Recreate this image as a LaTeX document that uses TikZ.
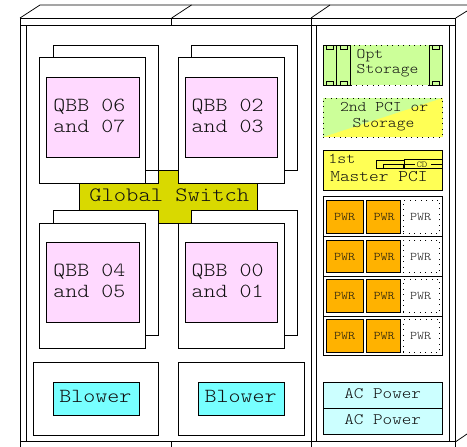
\documentclass[tikz,border=0pt]{standalone}
\usepackage{fontspec}
\setmonofont[FakeStretch=1.143]{Latin Modern Mono Light}
\definecolor{qbbpink}{HTML}{FFD9FF}
\definecolor{switchc}{HTML}{D9D900}
\definecolor{blowerc}{HTML}{77FFFF}
\definecolor{acc}{HTML}{CCFFFF}
\definecolor{optc}{HTML}{CCFF99}
\definecolor{pcic}{HTML}{FFFF55}
\definecolor{pwrc}{HTML}{FFB200}
\definecolor{txt}{HTML}{111111}
\tikzset{
  box/.style={draw=black,line width=0.75pt,inner sep=0pt,outer sep=0pt,anchor=north west},
  dotbox/.style={box,line width=0.9pt,dash pattern=on 1pt off 4.5pt},
  lbl/.style={anchor=base west,inner sep=0pt,outer sep=0pt,text=txt,font=\ttfamily\fontsize{#1}{#1}\selectfont},
  frame/.style={draw=black,line width=0.75pt}
}
% name, x1, y1, x2, y2, style
\newcommand{\bx}[6]{%
  \pgfmathsetmacro{\bw}{#4-#2}\pgfmathsetmacro{\bh}{#5-#3}%
  \node[#6,minimum width=\bw pt,minimum height=\bh pt] (#1) at (#2,#3) {};}
\begin{document}
\begin{tikzpicture}[x=1pt,y=-1pt]
\useasboundingbox (0,0) rectangle (467,447);
\fill[white] (0,0) rectangle (467,447);
\clip (0,0) rectangle (467,447);
% cabinet
\draw[frame] (20,18) -- (40,5) -- (467,5);
\draw[frame] (171.7,18) -- (191.5,5);
\draw[frame] (311,18) -- (330,5);
\draw[frame] (455.7,18) -- (467,11);
\draw[frame] (455.7,441.7) -- (467,434);
\draw[frame] (20,18) rectangle (455.7,25);
\draw[frame] (171.7,18) -- (171.7,25);
\draw[frame] (311,18) -- (311,25);
\draw[frame] (20,25) -- (20,447);
\draw[frame] (26,25) -- (26,441.7);
\draw[frame] (311,25) -- (311,447);
\draw[frame] (316.7,25) -- (316.7,441.7);
\draw[frame] (449.5,25) -- (449.5,441.7);
\draw[frame] (455.7,25) -- (455.7,447);
\draw[frame] (20,441.7) -- (455.7,441.7);
\draw[frame] (171.7,441.7) -- (171.7,447);
% upper QBB back boards
\bx{ulb}{53}{45}{158.7}{170.7}{box,fill=white}
\bx{urb}{191.3}{45}{297}{170.7}{box,fill=white}
% global switch
\draw[box,fill=switchc] (79.3,183) -- (158.7,183) -- (158.7,170.7) -- (191.3,170.7) -- (191.3,183) -- (257.7,183) -- (257.7,210) -- (191.3,210) -- (191.3,223) -- (158.7,223) -- (158.7,210) -- (79.3,210) -- cycle;
\node[lbl=20.5] (gs) at (89.3,201) {Global Switch};
% upper QBB front boards
\bx{ulf}{39.3}{57.7}{145.3}{183.3}{box,fill=white}
\bx{ulp}{46}{77.7}{139}{157.3}{box,fill=qbbpink}
\bx{urf}{178.3}{57.7}{284.3}{183.3}{box,fill=white}
\bx{urp}{185}{77.7}{277.3}{157.3}{box,fill=qbbpink}
\node[lbl=20] (q1a) at (53.3,111.7) {QBB 06};
\node[lbl=20] (q1b) at (53.3,132.3) {and 07};
\node[lbl=20] (q2a) at (191.7,111.7) {QBB 02};
\node[lbl=20] (q2b) at (191.7,132.3) {and 03};
% lower QBB
\bx{llb}{53}{210.3}{158.7}{335.7}{box,fill=white}
\bx{lrb}{191.3}{210.3}{297}{335.7}{box,fill=white}
\bx{llf}{39.3}{223.3}{145.3}{348.3}{box,fill=white}
\bx{llp}{46}{242.7}{139}{322.3}{box,fill=qbbpink}
\bx{lrf}{178.3}{223.3}{284.3}{348.3}{box,fill=white}
\bx{lrp}{185}{242.7}{277.3}{322.3}{box,fill=qbbpink}
\node[lbl=20] (q3a) at (53.3,276.7) {QBB 04};
\node[lbl=20] (q3b) at (53.3,297.3) {and 05};
\node[lbl=20] (q4a) at (191.7,276.7) {QBB 00};
\node[lbl=20] (q4b) at (191.7,297.3) {and 01};
% blowers
\bx{blo}{33}{362}{158.7}{435}{box,fill=white}
\bx{bli}{53}{382}{139}{415.3}{box,fill=blowerc}
\bx{bro}{178.3}{362}{304.3}{435}{box,fill=white}
\bx{bri}{198.3}{382}{284.3}{415.3}{box,fill=blowerc}
\node[lbl=20] (b1) at (59.3,402.3) {Blower};
\node[lbl=20] (b2) at (204.7,402.3) {Blower};
% opt storage
\bx{opt}{323.3}{45}{442.7}{85}{dotbox,fill=optc}
\foreach \n/\a/\b in {s1/323.3/336.7,s2/336.7/350.3,s3/429.3/442.7}{
  \bx{\n}{\a}{45}{\b}{85}{box}
  \pgfmathsetmacro{\c}{\a+3.4}\pgfmathsetmacro{\d}{\b-3.2}
  \bx{\n t}{\c}{45}{\d}{49}{box}
  \bx{\n b}{\c}{81}{\d}{85}{box}
}
\node[lbl=14.7] (o1) at (356.7,59) {Opt};
\node[lbl=14.7] (o2) at (356.7,74) {Storage};
% second PCI
\fill[optc] (323.3,98) rectangle (442.7,137);
\fill[pcic] (323.3,137) -- (442.7,98) -- (442.7,137) -- cycle;
\bx{pci2}{323.3}{98}{442.7}{137}{dotbox}
\node[lbl=14.7] (p1) at (340,111.7) {2nd PCI or};
\node[lbl=14.7] (p2) at (352.7,127.3) {Storage};
% first PCI
\bx{pci1}{323.3}{150.7}{442.7}{190}{box,fill=pcic}
\node[lbl=15] (m1) at (328.3,163.3) {1st};
\node[lbl=16.2] (m2) at (330.3,181.7) {Master PCI};
\bx{fd}{376.7}{160.7}{404}{168.3}{box}
\bx{fdi}{383.5}{164.3}{403}{168.3}{box}
\bx{cd}{404}{159}{442}{168.5}{box}
\node[lbl=9] (cdt) at (416.5,167) {CD};
\draw[frame] (cd.west |- 0,164) -- (414.5,164);
\draw[frame] (431,164) -- (cd.east |- 0,164);
% power
\bx{pwr}{323.3}{196.7}{442.7}{355.7}{box,fill=white}
\foreach \i/\t/\bt/\ba in {1/196.7/236.7/220.7,2/236.7/276/260,3/276/316/299.3,4/316/355.7/339.3}{
  \bx{row\i}{323.3}{\t}{442.7}{\bt}{box}
  \pgfmathsetmacro{\u}{\t+3.4}\pgfmathsetmacro{\v}{\bt-3.2}
  \bx{pa\i}{326.7}{\u}{363.3}{\v}{box,fill=pwrc}
  \bx{pb\i}{366.7}{\u}{400}{\v}{box,fill=pwrc}
  \bx{pc\i}{403.3}{\u}{439.7}{\v}{dotbox}
  \node[lbl=11.7] (ta\i) at (334,\ba) {PWR};
  \node[lbl=11.7] (tb\i) at (373.7,\ba) {PWR};
  \node[lbl=11.7] (tc\i) at (410,\ba) {PWR};
}
% AC power
\bx{ac1}{323.3}{382}{442.7}{408}{box,fill=acc}
\bx{ac2}{323.3}{408}{442.7}{434}{box,fill=acc}
\node[lbl=16] (a1) at (344.3,398) {AC Power};
\node[lbl=16] (a2) at (344.3,424) {AC Power};
\end{tikzpicture}
\end{document}
